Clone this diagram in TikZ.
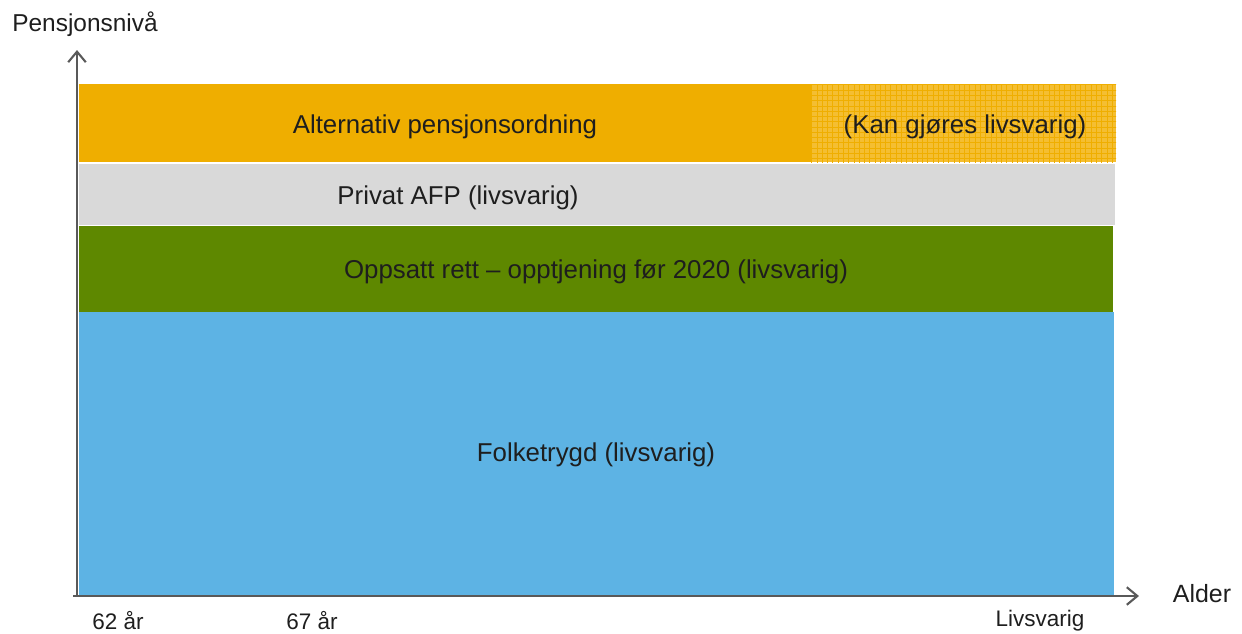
\documentclass[tikz,border=0pt]{standalone}
\usepackage{fontspec}
\setmainfont{Liberation Sans}
\usetikzlibrary{patterns,arrows.meta}

\definecolor{alternativ}{RGB}{239,174,0}
\definecolor{alternativlys}{RGB}{244,190,50}
\definecolor{afp}{RGB}{217,217,217}
\definecolor{oppsatt}{RGB}{94,136,0}
\definecolor{folketrygd}{RGB}{93,179,228}
\definecolor{akse}{RGB}{89,89,89}
\definecolor{tekst}{RGB}{30,30,30}

\begin{document}
\begin{tikzpicture}[x=0.02cm, y=-0.02cm,
    label/.style={text=tekst, font=\fontsize{14.7}{17}\selectfont, inner sep=0pt},
    tick/.style={text=tekst, font=\fontsize{12.8}{15}\selectfont, inner sep=0pt},
    axis/.style={akse, line width=1.2pt, -{Straight Barb[length=6pt, width=10pt, line width=1.2pt]}}]
    \useasboundingbox (0,0) rectangle (1242,633);

    % bands
    \fill[folketrygd] (79,312) rectangle (1114,595);
    \fill[oppsatt] (79,226) rectangle (1113,312);
    \fill[afp] (79,164) rectangle (1115,225);
    \fill[alternativ] (79,84) rectangle (811,162);
    \fill[alternativlys] (811,84) rectangle (1116,162);
    \fill[pattern=grid, pattern color=alternativ] (811,84) rectangle (1116,162);

    % axes
    \coordinate (o) at (77,596);
    \coordinate (ytop) at (77,50);
    \coordinate (xstart) at (73,596);
    \coordinate (xend) at (1139,596);
    \draw[axis] (o) -- (ytop);
    \draw[axis] (xstart) -- (xend);

    \node (ylab) at (85,24) [label, font=\fontsize{13.9}{16}\selectfont] {Pensjonsnivå};
    \node (xlab) at (1202,594) [label, font=\fontsize{14.2}{16}\selectfont] {Alder};

    \node (alt) at (445,127) [label] {Alternativ pensjonsordning};
    \node (kan) at (965,127) [label] {(Kan gjøres livsvarig)};
    \node (afp) at (458,198) [label] {Privat AFP (livsvarig)};
    \node (opp) at (596,272) [label] {Oppsatt rett – opptjening før 2020 (livsvarig)};
    \node (ft) at (596,455) [label] {Folketrygd (livsvarig)};

    \node (a62) at (118,621) [tick] {62 år};
    \node (a67) at (312,621) [tick] {67 år};
    \node (liv) at (1040,621) [tick] {Livsvarig};
\end{tikzpicture}
\end{document}
